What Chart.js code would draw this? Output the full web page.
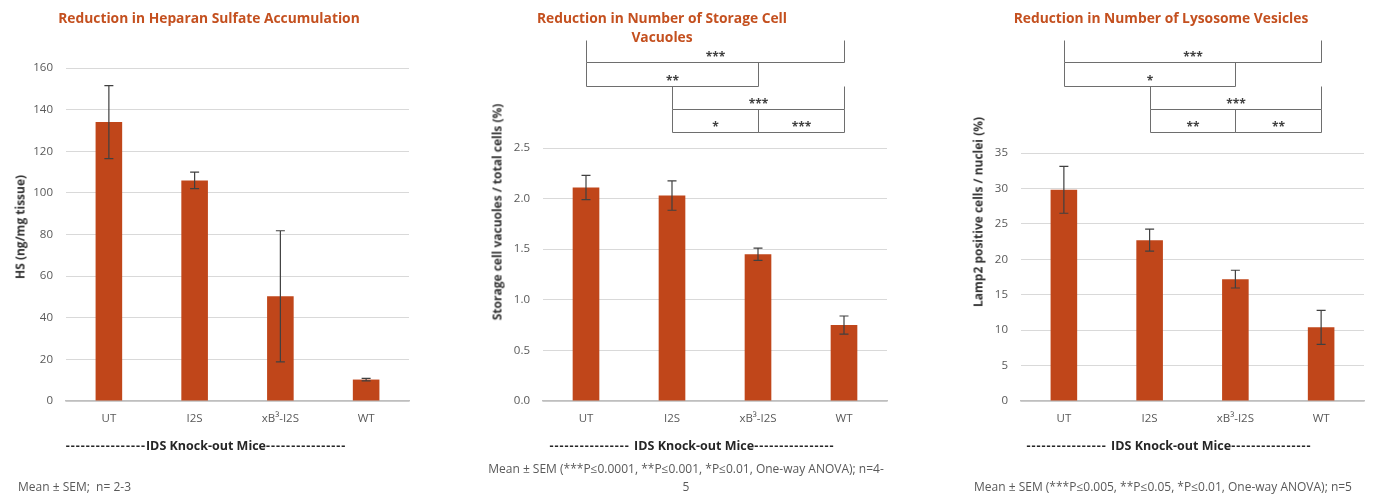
<!DOCTYPE html>
<html>
<head>
<meta charset="utf-8">
<script src="https://cdn.jsdelivr.net/npm/chart.js@4.4.1/dist/chart.umd.min.js"></script>
<style>
  body { margin: 0; background: #fff; font-family: 'Open Sans', sans-serif; }
  #page { position: relative; width: 1374px; height: 498px; overflow: hidden; }
  .box { position: absolute; top: 0; height: 498px; }
  .title { position: absolute; width: 340px; text-align: center; color: #C4501F; font-weight: bold; font-size: 13.8px; line-height: 19px; }
  .ytitle { position: absolute; white-space: nowrap; font-weight: bold; font-size: 12px; color: #333; transform: translate(-50%, -50%) rotate(-90deg); }
  .xtitle { position: absolute; white-space: nowrap; font-weight: bold; font-size: 12.5px; color: #262626; transform: translate(-50%, -50%); }
  .xtitle span { letter-spacing: 1px; }
  .note { position: absolute; font-size: 12px; color: #595959; line-height: 18px; white-space: nowrap; }
</style>
</head>
<body>
<div id="page">
  <div class="box" style="left:0; width:460px;"><canvas id="hsChart"></canvas></div>
  <div class="box" style="left:460px; width:460px;"><canvas id="vacChart"></canvas></div>
  <div class="box" style="left:920px; width:454px;"><canvas id="lampChart"></canvas></div>

  <div class="title" style="left:39px; top:8px;">Reduction in Heparan Sulfate Accumulation</div>
  <div class="title" style="left:492px; top:8px;">Reduction in Number of Storage Cell<br>Vacuoles</div>
  <div class="title" style="left:991px; top:8px;">Reduction in Number of Lysosome Vesicles</div>

  <div class="ytitle" style="left:20px; top:227px;">HS (ng/mg tissue)</div>
  <div class="ytitle" style="left:497px; top:212px;">Storage cell vacuoles / total cells (%)</div>
  <div class="ytitle" style="left:978px; top:212px;">Lamp2 positive cells / nuclei (%)</div>

  <div class="xtitle" style="left:206px; top:445px;"><span>----------------</span>IDS Knock-out Mice<span>----------------</span></div>
  <div class="xtitle" style="left:692px; top:445px;"><span>---------------- </span>IDS Knock-out Mice<span>----------------</span></div>
  <div class="xtitle" style="left:1169px; top:445px;"><span>---------------- </span>IDS Knock-out Mice<span>----------------</span></div>

  <div class="note" style="left:18px; top:478px;">Mean ± SEM;&nbsp; n= 2-3</div>
  <div class="note" style="left:466px; width:440px; top:460px; text-align:center;">Mean ± SEM (***P≤0.0001, **P≤0.001, *P≤0.01, One-way ANOVA); n=4-<br>5</div>
  <div class="note" style="left:943px; width:440px; top:478px; text-align:center;">Mean ± SEM (***P≤0.005, **P≤0.05, *P≤0.01, One-way ANOVA); n=5</div>
</div>

<script>
// groups on the x axis (same for all three panels)
const categories = ['UT', 'I2S', 'xB³-I2S', 'WT'];

// heparan sulfate, ng/mg tissue
const hsMean = [134, 106, 50.3, 10.3];
const hsSem = [17.5, 4, 31.5, 0.6];
const hsTicks = [0, 160, 20]; // min, max, step

// storage cell vacuoles, %
const vacMean = [2.11, 2.03, 1.45, 0.75];
const vacSem = [0.12, 0.145, 0.06, 0.09];
const vacTicks = [0, 2.5, 0.5];

// lamp2 positive cells, %
const lampMean = [29.8, 22.7, 17.2, 10.4];
const lampSem = [3.3, 1.55, 1.25, 2.4];
const lampTicks = [0, 35, 5];

// significance brackets: [from group, to group, row, stars]
const vacSig = [[0, 3, 0, '***'], [0, 2, 1, '**'], [1, 3, 2, '***'], [1, 2, 3, '*'], [2, 3, 3, '***']];
const lampSig = [[0, 3, 0, '***'], [0, 2, 1, '*'], [1, 3, 2, '***'], [1, 2, 3, '**'], [2, 3, 3, '**']];

// canvas y of the bracket rows (top of row 0 ... bottom of row 3)
const bracketRows = [40, 62, 86, 109, 132];

Chart.defaults.font.family = "'Open Sans', sans-serif";
Chart.defaults.color = '#595959';

const BAR = '#C0461A';
const Y_W = 45;
const X_H = 40;

// error bars + brackets, drawn on top of the bars
function makeExtras(sem, sig) {
    return {
        id: 'extras',
        afterDatasetsDraw(chart) {
            const ctx = chart.ctx;
            const xs = chart.scales.x;
            const ys = chart.scales.y;
            const vals = chart.data.datasets[0].data;
            const bars = chart.getDatasetMeta(0).data;

            ctx.save();
            ctx.strokeStyle = '#404040';
            ctx.lineWidth = 1.2;
            bars.forEach((bar, i) => {
                const top = ys.getPixelForValue(vals[i] + sem[i]);
                const bot = ys.getPixelForValue(vals[i] - sem[i]);
                ctx.beginPath();
                ctx.moveTo(bar.x, top); ctx.lineTo(bar.x, bot);
                ctx.moveTo(bar.x - 4.5, top); ctx.lineTo(bar.x + 4.5, top);
                ctx.moveTo(bar.x - 4.5, bot); ctx.lineTo(bar.x + 4.5, bot);
                ctx.stroke();
            });

            ctx.strokeStyle = '#6E6E6E';
            ctx.lineWidth = 1;
            ctx.fillStyle = '#404040';
            ctx.font = "bold 12px 'Open Sans'";
            ctx.textAlign = 'center';
            ctx.textBaseline = 'middle';
            sig.forEach(([a, b, row, stars]) => {
                const x1 = Math.round(xs.getPixelForValue(a)) + 0.5;
                const x2 = Math.round(xs.getPixelForValue(b)) + 0.5;
                const yTop = bracketRows[row] + 0.5;
                const yBot = bracketRows[row + 1] + 0.5;
                ctx.beginPath();
                ctx.moveTo(x1, yTop); ctx.lineTo(x1, yBot);
                ctx.lineTo(x2, yBot); ctx.lineTo(x2, yTop);
                ctx.stroke();
                ctx.fillText(stars, (x1 + x2) / 2, yBot - 5);
            });
            ctx.restore();
        }
    };
}

function makeChart(id, mean, sem, ticks, sig, area, width, fmt) {
    const ctx = document.getElementById(id).getContext('2d');
    return new Chart(ctx, {
        type: 'bar',
        data: {
            labels: categories,
            datasets: [{
                data: mean,
                backgroundColor: BAR,
                borderWidth: 0,
                categoryPercentage: 1,
                barPercentage: 0.31
            }]
        },
        options: {
            responsive: true,
            maintainAspectRatio: false,
            animation: false,
            layout: {
                padding: {
                    left: area.left - Y_W,
                    right: width - area.right,
                    top: area.top,
                    bottom: 498 - area.bottom - X_H
                }
            },
            plugins: {
                legend: { display: false },
                tooltip: { enabled: false }
            },
            scales: {
                x: {
                    grid: { display: false, drawTicks: false },
                    border: { display: true, color: '#BFBFBF', width: 1.5 },
                    ticks: { padding: 11, font: { size: 11.5 }, color: '#595959' },
                    afterFit: (s) => { s.height = X_H; }
                },
                y: {
                    min: ticks[0],
                    max: ticks[1],
                    grid: { color: '#D9D9D9', drawTicks: false },
                    border: { display: false },
                    ticks: {
                        stepSize: ticks[2],
                        padding: 13,
                        font: { size: 11.5 },
                        color: '#595959',
                        callback: fmt
                    },
                    afterFit: (s) => { s.width = Y_W; }
                }
            }
        },
        plugins: [makeExtras(sem, sig)]
    });
}

makeChart('hsChart', hsMean, hsSem, hsTicks, [],
    { left: 66, right: 409, top: 68, bottom: 401 }, 460, v => v);
makeChart('vacChart', vacMean, vacSem, vacTicks, vacSig,
    { left: 83, right: 427, top: 148, bottom: 401 }, 460, v => v.toFixed(1));
makeChart('lampChart', lampMean, lampSem, lampTicks, lampSig,
    { left: 101, right: 444, top: 153, bottom: 401 }, 454, v => v);
</script>
</body>
</html>
